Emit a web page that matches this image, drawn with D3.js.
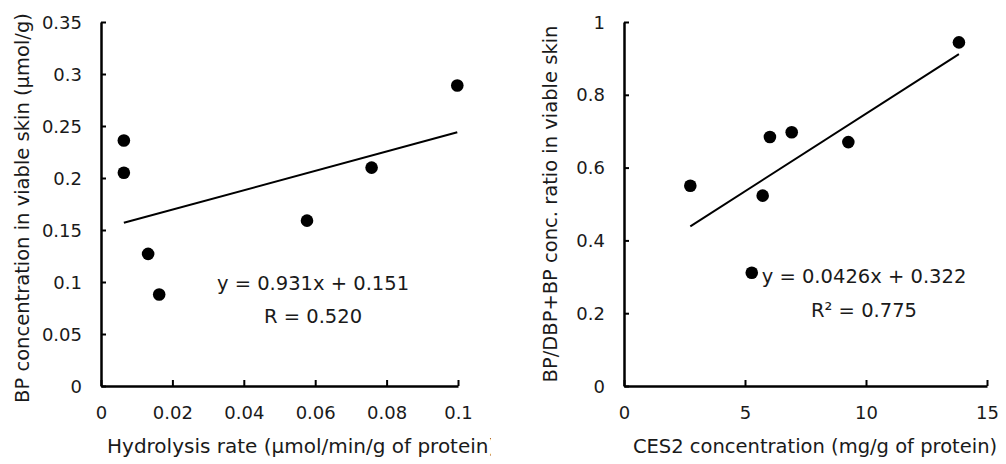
<!DOCTYPE html>
<html>
<head>
<meta charset="utf-8">
<script src="https://cdn.jsdelivr.net/npm/d3@7"></script>
<style>
  body { margin: 0; background: #fff; }
  svg { display: block; font-family: "DejaVu Sans", sans-serif; }
</style>
</head>
<body>
<svg id="chart" width="1006" height="464"></svg>
<script>
// left panel: hydrolysis rate vs BP in viable skin
var hydrolysisRate = [0.0064, 0.0064, 0.0132, 0.0163, 0.0577, 0.0758, 0.0998];
var bpConc = [0.236, 0.205, 0.127, 0.088, 0.159, 0.210, 0.289];
var leftXTicks = [0, 0.02, 0.04, 0.06, 0.08, 0.1];
var leftXLabels = ["0", "0.02", "0.04", "0.06", "0.08", "0.1"];
var leftYTicks = [0, 0.05, 0.1, 0.15, 0.2, 0.25, 0.3, 0.35];
var leftYLabels = ["0", "0.05", "0.1", "0.15", "0.2", "0.25", "0.3", "0.35"];
var leftFit = [0.931, 0.151];  // slope, intercept
var leftEq = ["y = 0.931x + 0.151", "R = 0.520"];

// right panel: CES2 vs BP ratio
var ces2Conc = [2.74, 5.28, 5.73, 6.03, 6.93, 9.27, 13.84];
var bpRatio = [0.550, 0.311, 0.523, 0.684, 0.697, 0.670, 0.944];
var rightXTicks = [0, 5, 10, 15];
var rightXLabels = ["0", "5", "10", "15"];
var rightYTicks = [0, 0.2, 0.4, 0.6, 0.8, 1];
var rightYLabels = ["0", "0.2", "0.4", "0.6", "0.8", "1"];
var rightFit = [0.0426, 0.322];
var rightEq = ["y = 0.0426x + 0.322", "R\u00b2 = 0.775"];

var svg = d3.select("#chart");

// left panel is cut at its right edge in the original figure
svg.append("defs").append("clipPath")
    .attr("id", "clip-left")
  .append("rect")
    .attr("x", 0).attr("y", 0)
    .attr("width", 491).attr("height", 464);

function drawPanel(opt) {
  var g = svg.append("g");
  if (opt.clip) g.attr("clip-path", "url(#" + opt.clip + ")");

  var x = d3.scaleLinear().domain(opt.xDomain).range([opt.left, opt.right]);
  var y = d3.scaleLinear().domain(opt.yDomain).range([opt.bottom, opt.top]);

  // ticks point inward
  var xAxis = g.append("g")
      .attr("transform", "translate(0," + opt.bottom + ")")
      .call(d3.axisBottom(x)
        .tickValues(opt.xTicks)
        .tickSize(-6)
        .tickSizeOuter(0)
        .tickFormat(function(d, i) { return opt.xLabels[i]; }));

  var yAxis = g.append("g")
      .attr("transform", "translate(" + opt.left + ",0)")
      .call(d3.axisLeft(y)
        .tickValues(opt.yTicks)
        .tickSize(-5)
        .tickSizeOuter(0)
        .tickFormat(function(d, i) { return opt.yLabels[i]; }));

  [xAxis, yAxis].forEach(function(a) {
    a.select(".domain").attr("stroke", "#000").attr("stroke-width", 2.5);
    a.selectAll(".tick line").attr("stroke", "#000").attr("stroke-width", 2);
    a.selectAll(".tick text")
      .attr("fill", "#1a1a1a")
      .style("font-size", "18px")
      .style("font-family", "DejaVu Sans, sans-serif");
  });
  xAxis.selectAll(".tick text").attr("y", 20).attr("dy", "0.71em");
  yAxis.selectAll(".tick text").attr("x", -19).attr("dy", "0.34em");

  // trend line over the data range
  var xs = d3.extent(opt.xs);
  g.append("line")
      .attr("x1", x(xs[0])).attr("y1", y(opt.fit[0] * xs[0] + opt.fit[1]))
      .attr("x2", x(xs[1])).attr("y2", y(opt.fit[0] * xs[1] + opt.fit[1]))
      .attr("stroke", "#000")
      .attr("stroke-width", 2);

  g.selectAll(".dot")
    .data(opt.xs)
    .enter().append("circle")
      .attr("class", "dot")
      .attr("cx", function(d) { return x(d); })
      .attr("cy", function(d, i) { return y(opt.ys[i]); })
      .attr("r", 6.3)
      .attr("fill", "#000");

  g.selectAll(".eq")
    .data(opt.eq)
    .enter().append("text")
      .attr("class", "eq")
      .attr("x", opt.eqX)
      .attr("y", function(d, i) { return opt.eqY + i * opt.eqGap; })
      .attr("text-anchor", "middle")
      .attr("fill", "#1a1a1a")
      .style("font-size", "19.5px")
      .text(function(d) { return d; });

  g.append("text")
      .attr("x", opt.xTitleX)
      .attr("y", 453)
      .attr("text-anchor", opt.xTitleAnchor)
      .attr("fill", "#1a1a1a")
      .style("font-size", opt.xTitleSize)
      .text(opt.xTitle);

  g.append("text")
      .attr("transform", "translate(" + opt.yTitleX + "," + opt.yTitleY + ") rotate(-90)")
      .attr("text-anchor", "middle")
      .attr("fill", "#1a1a1a")
      .style("font-size", "19.5px")
      .text(opt.yTitle);
}

drawPanel({
  left: 101, right: 458, top: 22, bottom: 386,
  xDomain: [0, 0.1], yDomain: [0, 0.35],
  xTicks: leftXTicks, xLabels: leftXLabels,
  yTicks: leftYTicks, yLabels: leftYLabels,
  xs: hydrolysisRate, ys: bpConc, fit: leftFit,
  eq: leftEq, eqX: 313, eqY: 290, eqGap: 33,
  xTitle: "Hydrolysis rate (\u03bcmol/min/g of protein)", xTitleX: 107, xTitleAnchor: "start", xTitleSize: "20px",
  yTitle: "BP concentration in viable skin (\u03bcmol/g)", yTitleX: 29, yTitleY: 208,
  clip: "clip-left"
});

drawPanel({
  left: 624, right: 987, top: 22, bottom: 386,
  xDomain: [0, 15], yDomain: [0, 1],
  xTicks: rightXTicks, xLabels: rightXLabels,
  yTicks: rightYTicks, yLabels: rightYLabels,
  xs: ces2Conc, ys: bpRatio, fit: rightFit,
  eq: rightEq, eqX: 864, eqY: 283, eqGap: 34,
  xTitle: "CES2 concentration (mg/g of protein)", xTitleX: 815, xTitleAnchor: "middle", xTitleSize: "19.5px",
  yTitle: "BP/DBP+BP conc. ratio in viable skin", yTitleX: 557, yTitleY: 204
});
</script>
</body>
</html>
